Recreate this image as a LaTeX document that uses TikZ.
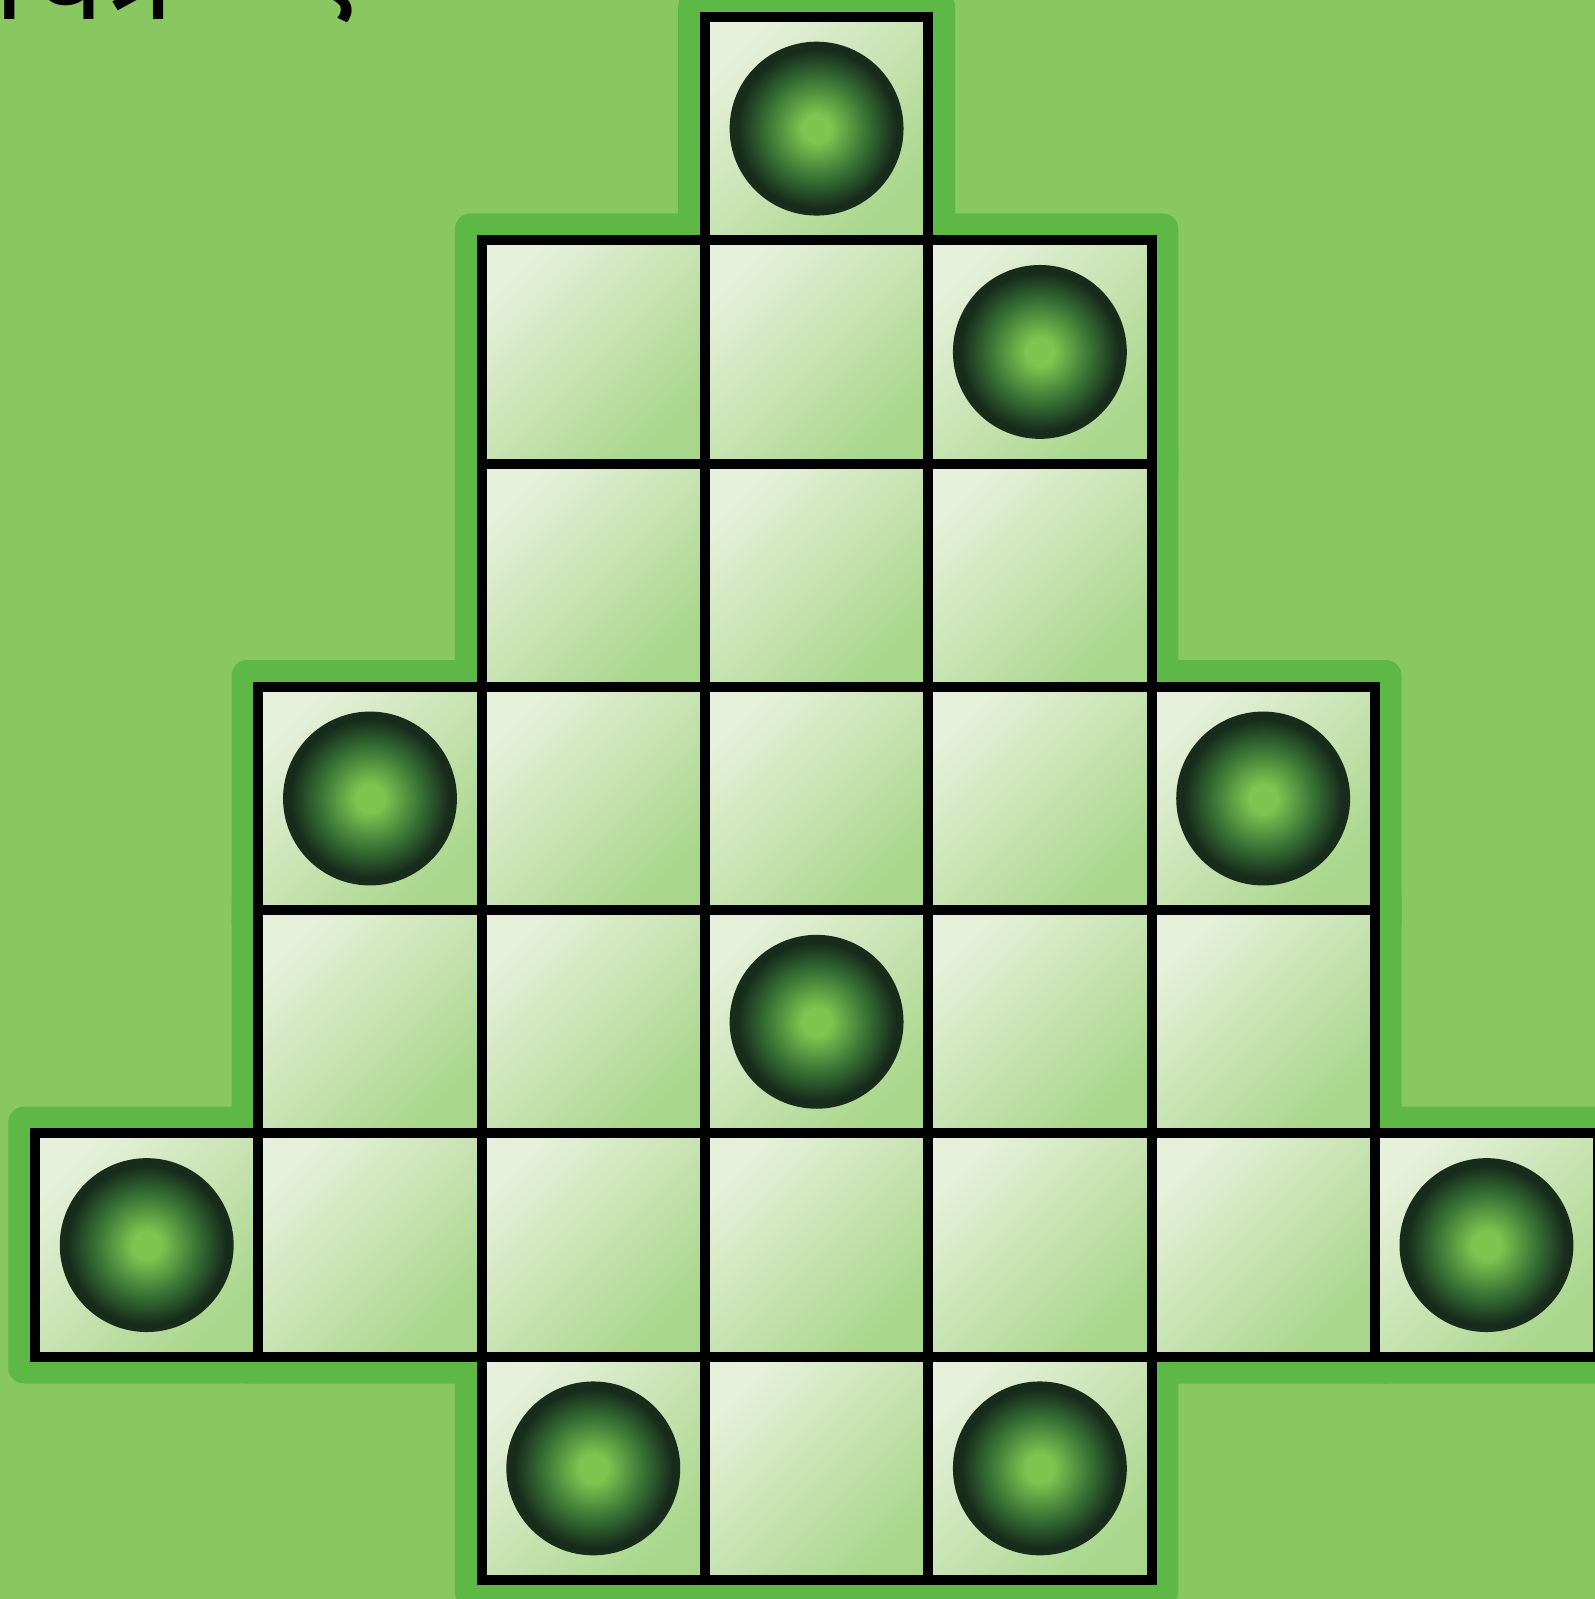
\documentclass[tikz,border=0pt]{standalone}
\usepackage{fontspec}
\newfontfamily\devafont[Script=Devanagari]{Noto Sans}
\definecolor{board}{RGB}{137,200,97}
\definecolor{halo}{RGB}{94,184,70}
\definecolor{celllight}{RGB}{230,240,218}
\definecolor{celldark}{RGB}{168,214,138}
\definecolor{ballin}{RGB}{124,198,80}
\definecolor{ballmid}{RGB}{54,112,52}
\definecolor{ballout}{RGB}{24,44,28}
\pgfdeclareradialshading{ballshade}{\pgfpoint{0bp}{0bp}}{color(0bp)=(ballin); color(4bp)=(ballin); color(15bp)=(ballmid); color(23bp)=(ballout); color(25bp)=(ballout); color(50bp)=(ballout)}
\begin{document}
\begin{tikzpicture}[x=2cm,y=2cm,
    cell/.style={draw=black,line width=2.55pt,top color=celllight,bottom color=celldark,shading angle=45},
    ball/.style={shading=ballshade,draw=ballout,line width=0.5pt},
    halo/.style={fill=halo,rounded corners=4pt}]
    \useasboundingbox[fill=board] (-0.157,0.076) rectangle (6.986,-7.085);
    % caption, cut off at the top
    \node[anchor=base west,inner sep=0pt,font=\devafont\fontsize{32}{36}\selectfont] (caption) at (-0.19,-0.012) {चित्र – १};
    \foreach \r/\c in {0/3,1/2,1/3,1/4,2/2,2/3,2/4,3/1,3/2,3/3,3/4,3/5,4/1,4/2,4/3,4/4,4/5,5/0,5/1,5/2,5/3,5/4,5/5,5/6,6/2,6/3,6/4}
        \fill[halo] (\c-0.12,-\r+0.12) rectangle (\c+1.12,-\r-1.12);
    \foreach \r/\c in {0/3,1/2,1/3,1/4,2/2,2/3,2/4,3/1,3/2,3/3,3/4,3/5,4/1,4/2,4/3,4/4,4/5,5/0,5/1,5/2,5/3,5/4,5/5,5/6,6/2,6/3,6/4}
        \draw[cell] (\c,-\r) rectangle (\c+1,-\r-1);
    \foreach \r/\c in {0/3,1/4,3/1,3/5,4/3,5/0,5/6,6/2,6/4}
        \shadedraw[ball] (\c+0.5,-\r-0.5) circle (0.385);
\end{tikzpicture}
\end{document}
